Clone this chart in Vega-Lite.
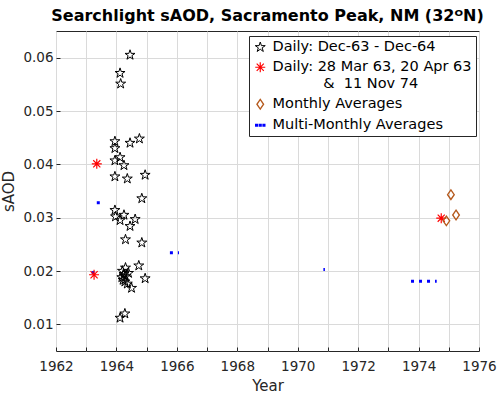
{
  "$schema": "https://vega.github.io/schema/vega-lite/v6.json",
  "width": 423,
  "height": 320,
  "autosize": "none",
  "padding": {"left": 56, "top": 31, "right": 21, "bottom": 44},
  "background": "white",
  "title": {
    "text": "Searchlight sAOD,  Sacramento Peak, NM (32ᴼN)",
    "font": "DejaVu Sans",
    "fontSize": 16,
    "fontWeight": "bold",
    "color": "#000000",
    "anchor": "middle",
    "frame": "group",
    "baseline": "top",
    "offset": 7
  },
  "config": {
    "view": {"stroke": "#262626", "strokeWidth": 1},
    "axis": {
      "gridColor": "#dadada",
      "gridOpacity": 1,
      "gridWidth": 1,
      "domain": false,
      "tickColor": "#262626",
      "labelColor": "#262626",
      "labelFont": "DejaVu Sans",
      "labelFontSize": 13.5,
      "labelFlush": false,
      "titleFont": "DejaVu Sans",
      "titleFontSize": 15,
      "titleFontWeight": "normal",
      "titleColor": "#262626"
    },
    "axisX": {
      "title": "Year",
      "values": [1962, 1964, 1966, 1968, 1970, 1972, 1974, 1976],
      "format": "d",
      "grid": true,
      "ticks": true,
      "tickSize": -4,
      "labelPadding": 12,
      "titlePadding": 6
    },
    "axisY": {
      "title": "sAOD",
      "values": [0.01, 0.02, 0.03, 0.04, 0.05, 0.06],
      "format": ".2f",
      "grid": true,
      "ticks": true,
      "tickSize": -4,
      "labelPadding": 7,
      "titlePadding": 6
    },
    "legend": {
      "orient": "none",
      "legendX": 193,
      "legendY": 5,
      "fillColor": "white",
      "strokeColor": "#262626",
      "padding": 4,
      "cornerRadius": 0,
      "labelFont": "DejaVu Sans",
      "labelFontSize": 14.5,
      "labelColor": "#000000",
      "labelLimit": 400,
      "labelOffset": 5,
      "rowPadding": 5,
      "symbolStrokeWidth": 1
    }
  },
  "datasets": {
    "points": [
      {"series": "Daily: Dec-63 - Dec-64", "year": 1964.45, "value": 0.0605},
      {"series": "Daily: Dec-63 - Dec-64", "year": 1964.12, "value": 0.0571},
      {"series": "Daily: Dec-63 - Dec-64", "year": 1964.14, "value": 0.0551},
      {"series": "Daily: Dec-63 - Dec-64", "year": 1963.95, "value": 0.0443},
      {"series": "Daily: Dec-63 - Dec-64", "year": 1963.95, "value": 0.0430},
      {"series": "Daily: Dec-63 - Dec-64", "year": 1964.45, "value": 0.0440},
      {"series": "Daily: Dec-63 - Dec-64", "year": 1964.76, "value": 0.0448},
      {"series": "Daily: Dec-63 - Dec-64", "year": 1964.12, "value": 0.0413},
      {"series": "Daily: Dec-63 - Dec-64", "year": 1963.95, "value": 0.0407},
      {"series": "Daily: Dec-63 - Dec-64", "year": 1964.25, "value": 0.0398},
      {"series": "Daily: Dec-63 - Dec-64", "year": 1963.95, "value": 0.0377},
      {"series": "Daily: Dec-63 - Dec-64", "year": 1964.36, "value": 0.0373},
      {"series": "Daily: Dec-63 - Dec-64", "year": 1964.95, "value": 0.0380},
      {"series": "Daily: Dec-63 - Dec-64", "year": 1964.84, "value": 0.0336},
      {"series": "Daily: Dec-63 - Dec-64", "year": 1963.95, "value": 0.0314},
      {"series": "Daily: Dec-63 - Dec-64", "year": 1963.97, "value": 0.0302},
      {"series": "Daily: Dec-63 - Dec-64", "year": 1964.12, "value": 0.0295},
      {"series": "Daily: Dec-63 - Dec-64", "year": 1964.25, "value": 0.0305},
      {"series": "Daily: Dec-63 - Dec-64", "year": 1964.62, "value": 0.0297},
      {"series": "Daily: Dec-63 - Dec-64", "year": 1964.45, "value": 0.0284},
      {"series": "Daily: Dec-63 - Dec-64", "year": 1964.30, "value": 0.0259},
      {"series": "Daily: Dec-63 - Dec-64", "year": 1964.84, "value": 0.0253},
      {"series": "Daily: Dec-63 - Dec-64", "year": 1964.30, "value": 0.0206},
      {"series": "Daily: Dec-63 - Dec-64", "year": 1964.74, "value": 0.0210},
      {"series": "Daily: Dec-63 - Dec-64", "year": 1964.20, "value": 0.0200},
      {"series": "Daily: Dec-63 - Dec-64", "year": 1964.25, "value": 0.0194},
      {"series": "Daily: Dec-63 - Dec-64", "year": 1964.18, "value": 0.0188},
      {"series": "Daily: Dec-63 - Dec-64", "year": 1964.30, "value": 0.0190},
      {"series": "Daily: Dec-63 - Dec-64", "year": 1964.40, "value": 0.0196},
      {"series": "Daily: Dec-63 - Dec-64", "year": 1964.95, "value": 0.0186},
      {"series": "Daily: Dec-63 - Dec-64", "year": 1964.28, "value": 0.0180},
      {"series": "Daily: Dec-63 - Dec-64", "year": 1964.36, "value": 0.0176},
      {"series": "Daily: Dec-63 - Dec-64", "year": 1964.50, "value": 0.0168},
      {"series": "Daily: Dec-63 - Dec-64", "year": 1964.22, "value": 0.0183},
      {"series": "Daily: Dec-63 - Dec-64", "year": 1964.28, "value": 0.0120},
      {"series": "Daily: Dec-63 - Dec-64", "year": 1964.12, "value": 0.0112},
      {"series": "Daily: 28 Mar 63, 20 Apr 63 & 11 Nov 74", "year": 1963.26, "value": 0.0193},
      {"series": "Daily: 28 Mar 63, 20 Apr 63 & 11 Nov 74", "year": 1963.35, "value": 0.0401},
      {"series": "Daily: 28 Mar 63, 20 Apr 63 & 11 Nov 74", "year": 1974.75, "value": 0.0299},
      {"series": "Monthly Averages", "year": 1975.07, "value": 0.0343},
      {"series": "Monthly Averages", "year": 1975.24, "value": 0.0305},
      {"series": "Monthly Averages", "year": 1974.92, "value": 0.0294}
    ],
    "multi": [
      {"start": 1963.18, "end": 1963.27, "value": 0.0197},
      {"start": 1963.35, "end": 1963.45, "value": 0.0328},
      {"start": 1965.77, "end": 1966.07, "value": 0.0234},
      {"start": 1970.85, "end": 1970.90, "value": 0.0203},
      {"start": 1973.75, "end": 1974.60, "value": 0.0181}
    ]
  },
  "layer": [
    {
      "data": {"name": "multi"},
      "mark": {"type": "rule", "color": "#0000ff", "strokeWidth": 3, "strokeDash": [3, 5]},
      "encoding": {
        "x": {
          "field": "start", "type": "quantitative", "title": "Year",
          "scale": {"domain": [1962, 1976], "nice": false, "zero": false}
        },
        "x2": {"field": "end"},
        "y": {
          "field": "value", "type": "quantitative", "title": "sAOD",
          "scale": {"domain": [0.005, 0.065], "nice": false, "zero": false}
        }
      }
    },
    {
      "data": {"name": "points"},
      "mark": {"type": "point", "filled": false, "opacity": 1},
      "encoding": {
        "x": {"field": "year", "type": "quantitative", "title": "Year"},
        "y": {"field": "value", "type": "quantitative", "title": "sAOD"},
        "color": {
          "field": "series", "type": "nominal",
          "scale": {
            "domain": ["Daily: Dec-63 - Dec-64", "Daily: 28 Mar 63, 20 Apr 63 & 11 Nov 74", "Monthly Averages", "Multi-Monthly Averages"],
            "range": ["#000000", "#ff0000", "#b5591c", "#0000ff"]
          },
          "legend": {
            "title": null,
            "labelExpr": "datum.label === 'Daily: 28 Mar 63, 20 Apr 63 & 11 Nov 74' ? ['Daily: 28 Mar 63, 20 Apr 63', '\u200b\u00a0\u00a0\u00a0\u00a0\u00a0\u00a0\u00a0\u00a0\u00a0\u00a0\u00a0&\u00a0\u00a011 Nov 74'] : datum.label",
            "encode": {
              "symbols": {
                "size": {"value": {"expr": "datum.value === 'Multi-Monthly Averages' ? 441 : datum.value === 'Monthly Averages' ? 196 : datum.value === 'Daily: Dec-63 - Dec-64' ? 110 : 81"}},
                "fill": {"value": {"expr": "datum.value === 'Multi-Monthly Averages' ? '#0000ff' : 'transparent'"}},
                "strokeWidth": {"value": {"expr": "datum.value === 'Multi-Monthly Averages' ? 0 : datum.value === 'Daily: Dec-63 - Dec-64' ? 1 : 1.5"}}
              },
              "labels": {
                "lineHeight": {"value": 20}
              }
            }
          }
        },
        "shape": {
          "field": "series", "type": "nominal",
          "scale": {
            "domain": ["Daily: Dec-63 - Dec-64", "Daily: 28 Mar 63, 20 Apr 63 & 11 Nov 74", "Monthly Averages", "Multi-Monthly Averages"],
            "range": [
              "M0,-1L0.225,-0.309L0.951,-0.309L0.363,0.118L0.588,0.809L0,0.382L-0.588,0.809L-0.363,0.118L-0.951,-0.309L-0.225,-0.309Z",
              "M-1,0L1,0M0,-1L0,1M-0.71,-0.71L0.71,0.71M-0.71,0.71L0.71,-0.71",
              "M0,-1L0.7,0L0,1L-0.7,0Z",
              "M-1,-0.17L-0.64,-0.17L-0.64,0.17L-1,0.17ZM-0.18,-0.17L0.18,-0.17L0.18,0.17L-0.18,0.17ZM0.64,-0.17L1,-0.17L1,0.17L0.64,0.17Z"
            ]
          },
          "legend": {"title": null}
        },
        "size": {
          "field": "series", "type": "nominal",
          "scale": {
            "domain": ["Daily: Dec-63 - Dec-64", "Daily: 28 Mar 63, 20 Apr 63 & 11 Nov 74", "Monthly Averages", "Multi-Monthly Averages"],
            "range": [110, 81, 196, 441]
          },
          "legend": null
        },
        "strokeWidth": {
          "field": "series", "type": "nominal",
          "scale": {
            "domain": ["Daily: Dec-63 - Dec-64", "Daily: 28 Mar 63, 20 Apr 63 & 11 Nov 74", "Monthly Averages", "Multi-Monthly Averages"],
            "range": [1, 1.5, 1.5, 0]
          },
          "legend": null
        }
      }
    }
  ]
}
